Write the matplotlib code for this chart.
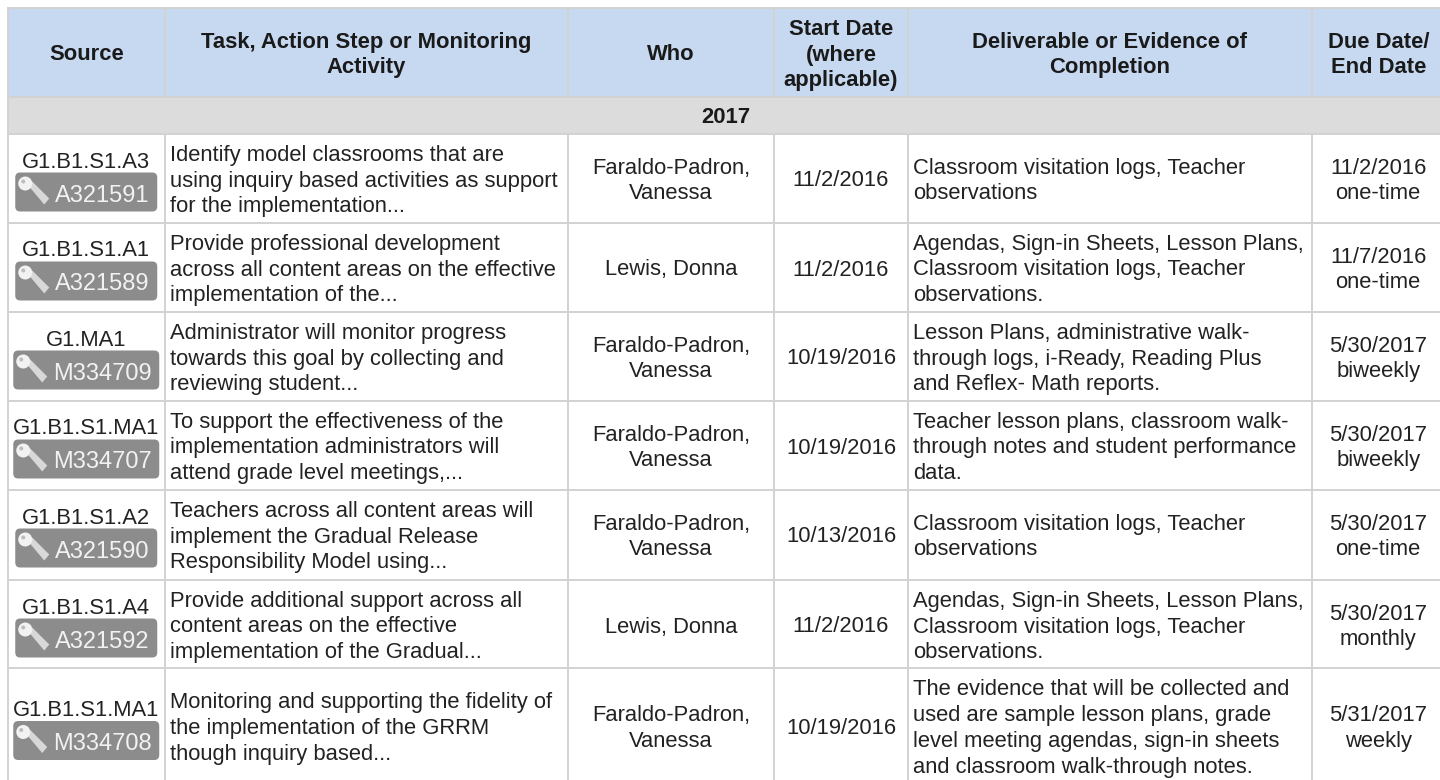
import matplotlib
matplotlib.use('Agg')
import matplotlib.pyplot as plt
from matplotlib.patches import Rectangle, FancyBboxPatch, Circle, Polygon

plt.rcParams['font.family'] = ['Liberation Sans', 'DejaVu Sans']

# table contents
headers = [
    'Source',
    'Task, Action Step or Monitoring\nActivity',
    'Who',
    'Start Date\n(where\napplicable)',
    'Deliverable or Evidence of\nCompletion',
    'Due Date/\nEnd Date',
]
section_label = '2017'
sources = ['G1.B1.S1.A3', 'G1.B1.S1.A1', 'G1.MA1', 'G1.B1.S1.MA1', 'G1.B1.S1.A2', 'G1.B1.S1.A4', 'G1.B1.S1.MA1']
badges = ['A321591', 'A321589', 'M334709', 'M334707', 'A321590', 'A321592', 'M334708']
tasks = [
    'Identify model classrooms that are\nusing inquiry based activities as support\nfor the implementation...',
    'Provide professional development\nacross all content areas on the effective\nimplementation of the...',
    'Administrator will monitor progress\ntowards this goal by collecting and\nreviewing student...',
    'To support the effectiveness of the\nimplementation administrators will\nattend grade level meetings,...',
    'Teachers across all content areas will\nimplement the Gradual Release\nResponsibility Model using...',
    'Provide additional support across all\ncontent areas on the effective\nimplementation of the Gradual...',
    'Monitoring and supporting the fidelity of\nthe implementation of the GRRM\nthough inquiry based...',
]
who = [
    'Faraldo-Padron,\nVanessa', 'Lewis, Donna', 'Faraldo-Padron,\nVanessa', 'Faraldo-Padron,\nVanessa',
    'Faraldo-Padron,\nVanessa', 'Lewis, Donna', 'Faraldo-Padron,\nVanessa',
]
start_dates = ['11/2/2016', '11/2/2016', '10/19/2016', '10/19/2016', '10/13/2016', '11/2/2016', '10/19/2016']
deliverables = [
    'Classroom visitation logs, Teacher\nobservations',
    'Agendas, Sign-in Sheets, Lesson Plans,\nClassroom visitation logs, Teacher\nobservations.',
    'Lesson Plans, administrative walk-\nthrough logs, i-Ready, Reading Plus\nand Reflex- Math reports.',
    'Teacher lesson plans, classroom walk-\nthrough notes and student performance\ndata.',
    'Classroom visitation logs, Teacher\nobservations',
    'Agendas, Sign-in Sheets, Lesson Plans,\nClassroom visitation logs, Teacher\nobservations.',
    'The evidence that will be collected and\nused are sample lesson plans, grade\nlevel meeting agendas, sign-in sheets\nand classroom walk-through notes.',
]
due_dates = ['11/2/2016', '11/7/2016', '5/30/2017', '5/30/2017', '5/30/2017', '5/30/2017', '5/31/2017']
frequency = ['one-time', 'one-time', 'biweekly', 'biweekly', 'one-time', 'monthly', 'weekly']

# layout in pixels
col_x = [8, 164.5, 568, 774, 908, 1311.5, 1445]
row_y = [134, 223, 312, 401, 490, 580, 668]
grid = '#d2d2d2'
txt = '#222222'
fs = 15.8
ls = 1.3

fig = plt.figure(figsize=(14.4, 7.8), dpi=100)
ax = fig.add_axes([0, 0, 1, 1])
ax.set_xlim(0, 1440)
ax.set_ylim(780, 0)
ax.axis('off')

# header and section bands
ax.add_patch(Rectangle((col_x[0], 8), col_x[-1] - col_x[0], 89, fc='#c6d9f1', ec='none'))
ax.add_patch(Rectangle((col_x[0], 97), col_x[-1] - col_x[0], 37, fc='#dcdcdc', ec='none'))

for x in col_x:
    ax.plot([x, x], [8, 97], color=grid, lw=1.4)
    ax.plot([x, x], [134, 780], color=grid, lw=1.4)
ax.plot([col_x[0], col_x[0]], [97, 134], color=grid, lw=1.4)
for y in [8, 97, 134] + row_y[1:]:
    ax.plot([col_x[0], col_x[-1]], [y, y], color=grid, lw=1.4)

for i, h in enumerate(headers):
    ax.text((col_x[i] + col_x[i + 1]) / 2, 55, h, ha='center', va='center', fontsize=fs,
            fontweight='bold', color='#1a1a1a', linespacing=ls)
ax.text(726, 117.5, section_label, ha='center', va='center', fontsize=fs, fontweight='bold', color='#1a1a1a')

for i in range(len(sources)):
    top = row_y[i]
    last = i == len(sources) - 1
    ymid = top + (58 if last else 44.5)
    xc = (col_x[0] + col_x[1]) / 2

    # grey badge with key icon
    bw = 146 if badges[i][0] == 'M' else 142
    bx = xc - bw / 2
    by = ymid - (5 if last else 6)
    ax.text(xc, by - 10.5, sources[i], ha='center', va='center', fontsize=fs, color=txt)
    ax.add_patch(FancyBboxPatch((bx + 5, by + 5), bw - 10, 29, boxstyle='round,pad=5,rounding_size=5',
                                fc='#8c8c8c', ec='none'))
    ax.add_patch(Polygon([[bx + 13, by + 13], [bx + 17, by + 9], [bx + 34, by + 26], [bx + 29, by + 32]],
                         closed=True, fc='#d8d8d8', ec='none'))
    ax.add_patch(Circle((bx + 10, by + 11), 7, fc='#f2f2f2', ec='none'))
    ax.add_patch(Circle((bx + 8, by + 9), 2, fc='#bdbdbd', ec='none'))
    ax.text(bx + 40, by + 23, badges[i], ha='left', va='center', fontsize=17, color='#f2f2f2')

    yt = ymid + 2.5
    ax.text(col_x[1] + 5.5, yt, tasks[i], ha='left', va='center', fontsize=fs, color=txt, linespacing=ls)
    ax.text((col_x[2] + col_x[3]) / 2, yt, who[i], ha='center', va='center', fontsize=fs, color=txt, linespacing=ls)
    ax.text((col_x[3] + col_x[4]) / 2, yt, start_dates[i], ha='center', va='center', fontsize=fs, color=txt)
    ax.text(col_x[4] + 5, yt, deliverables[i], ha='left', va='center', fontsize=fs, color=txt, linespacing=ls)
    ax.text((col_x[5] + col_x[6]) / 2, yt, due_dates[i] + '\n' + frequency[i], ha='center', va='center',
            fontsize=fs, color=txt, linespacing=ls)

fig.savefig('out.png', dpi=100)
